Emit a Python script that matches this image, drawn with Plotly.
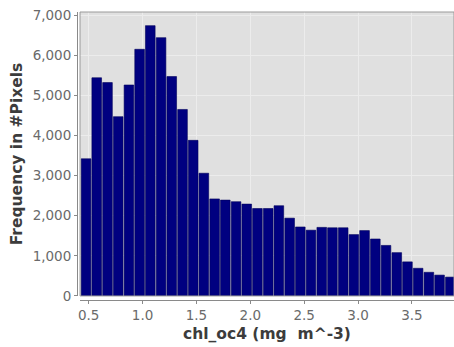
import plotly.graph_objects as go

# Histogram bin centers (chl_oc4, mg m^-3)
bin_centers = [0.476, 0.575, 0.675, 0.774, 0.874, 0.973, 1.072, 1.172, 1.271, 1.371,
               1.470, 1.569, 1.669, 1.768, 1.868, 1.967, 2.066, 2.166, 2.265, 2.365,
               2.464, 2.563, 2.663, 2.762, 2.862, 2.961, 3.060, 3.160, 3.259, 3.359,
               3.458, 3.557, 3.657, 3.756, 3.856]
bin_width = 0.0994

# Frequency in #Pixels
frequency = [3420, 5440, 5320, 4470, 5260, 6150, 6740, 6440, 5470, 4650,
             3880, 3060, 2420, 2390, 2350, 2290, 2180, 2180, 2250, 1940,
             1720, 1640, 1710, 1700, 1700, 1530, 1630, 1420, 1260, 1080,
             850, 690, 590, 520, 470]

x_tick_vals = [0.5, 1.0, 1.5, 2.0, 2.5, 3.0, 3.5]
x_tick_text = ["0.5", "1.0", "1.5", "2.0", "2.5", "3.0", "3.5"]
y_tick_vals = [0, 1000, 2000, 3000, 4000, 5000, 6000, 7000]
y_tick_text = ["0", "1,000", "2,000", "3,000", "4,000", "5,000", "6,000", "7,000"]

FONT = "DejaVu Sans"

fig = go.Figure()
fig.add_trace(go.Bar(
    x=bin_centers,
    y=frequency,
    width=[bin_width * 0.9] * len(bin_centers),
    marker=dict(color="#000080", line=dict(color="#00005a", width=0.6)),
    hoverinfo="x+y",
))

fig.update_layout(
    width=454, height=347,
    margin=dict(l=77, r=0, t=12, b=47),
    paper_bgcolor="white",
    plot_bgcolor="#e0e0e0",
    showlegend=False,
    font=dict(family=FONT),
    xaxis=dict(
        domain=[0.008, 1], anchor="free", position=0,
        range=[0.42, 3.89],
        tickvals=x_tick_vals, ticktext=x_tick_text,
        showline=True, linecolor="#8a8a8a", linewidth=1,
        ticks="outside", ticklen=3, tickcolor="#8a8a8a",
        showgrid=True, gridcolor="#ececec", gridwidth=1,
        zeroline=False,
        tickfont=dict(size=13.5, color="#6a6a6a", family=FONT),
        title=dict(text="chl_oc4 (mg\u00a0 m^-3)", standoff=5,
                   font=dict(size=15.5, color="#3c3c3c", family=FONT, weight="bold")),
    ),
    yaxis=dict(
        domain=[0.014, 1], anchor="free", position=0,
        range=[0, 7080],
        tickvals=y_tick_vals, ticktext=y_tick_text,
        showline=True, linecolor="#8a8a8a", linewidth=1,
        ticks="outside", ticklen=3, tickcolor="#8a8a8a",
        showgrid=True, gridcolor="#ececec", gridwidth=1,
        zeroline=False,
        tickfont=dict(size=13.5, color="#6a6a6a", family=FONT),
        title=dict(text="Frequency in #Pixels", standoff=5,
                   font=dict(size=15.5, color="#3c3c3c", family=FONT, weight="bold")),
    ),
    shapes=[dict(type="rect", xref="x domain", yref="y domain",
                 x0=0, x1=1, y0=0, y1=1,
                 line=dict(color="#9a9a9a", width=1), layer="above")],
)

fig.write_html("out.html")
